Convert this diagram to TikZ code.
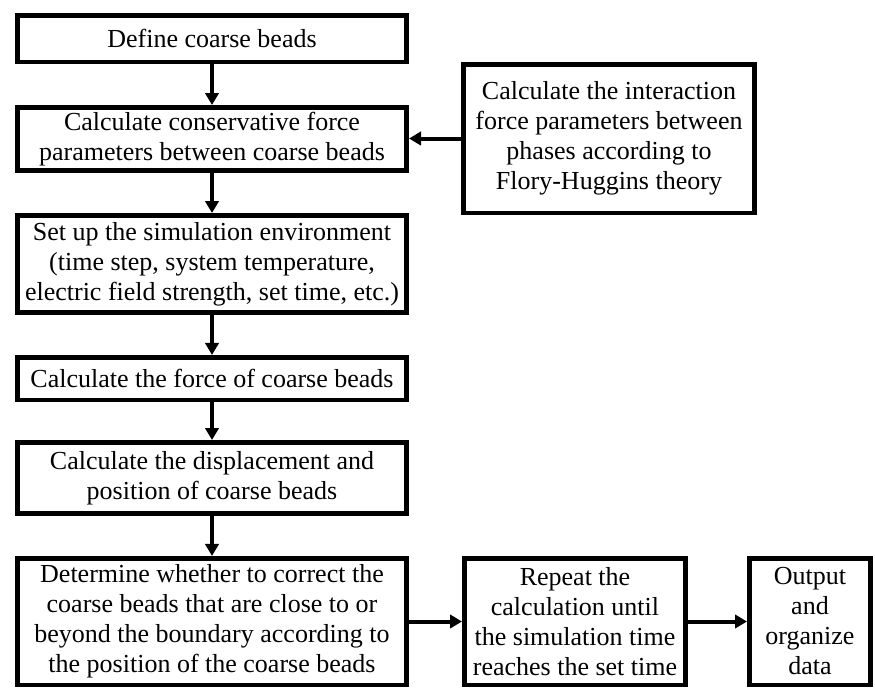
\documentclass[tikz,border=0pt]{standalone}
\usepackage{fontspec}
\setmainfont{Liberation Serif}
\usetikzlibrary{arrows.meta}
\begin{document}
\begin{tikzpicture}[x=0.75pt,y=-0.75pt,font=\fontsize{19.5}{22.5}\selectfont,box/.style={draw,line width=3.4pt,align=center,inner sep=0pt},flow/.style={line width=3pt,-{Triangle[length=9pt,width=10pt]}}]
\useasboundingbox (0,0) rectangle (875,689);
\node[box,minimum width=292.1pt,minimum height=34.9pt] (define) at (212,38.5) {Define coarse beads};
\node[box,minimum width=292.1pt,minimum height=47.6pt] (consv) at (212,139) {Calculate conservative force\\parameters between coarse beads};
\node[box,minimum width=218.6pt,minimum height=111.4pt] (flory) at (609,138.5) {Calculate the interaction\\force parameters between\\phases according to\\Flory-Huggins theory};
\node[box,minimum width=292.1pt,minimum height=73.1pt] (setup) at (212,264) {Set up the simulation environment\\(time step, system temperature,\\electric field strength, set time, etc.)};
\node[box,minimum width=292.1pt,minimum height=31.9pt] (force) at (212,378.5) {Calculate the force of coarse beads};
\node[box,minimum width=292.1pt,minimum height=53.6pt] (disp) at (212,478) {Calculate the displacement and\\position of coarse beads};
\node[box,minimum width=292.1pt,minimum height=94.9pt] (check) at (212,621.5) {Determine whether to correct the\\coarse beads that are close to or\\beyond the boundary according to\\the position of the coarse beads};
\node[box,minimum width=166.1pt,minimum height=94.9pt] (repeat) at (575,621.5) {Repeat the\\calculation until\\the simulation time\\reaches the set time};
\node[box,minimum width=91.1pt,minimum height=94.9pt] (output) at (810,621.5) {Output\\and\\organize\\data};
\draw[flow] (define) -- (consv); \draw[flow] (flory.west) -- (flory.west -| consv.east);
\draw[flow] (consv) -- (setup); \draw[flow] (setup) -- (force); \draw[flow] (force) -- (disp); \draw[flow] (disp) -- (check);
\draw[flow] (check) -- (repeat); \draw[flow] (repeat) -- (output);
\end{tikzpicture}
\end{document}
